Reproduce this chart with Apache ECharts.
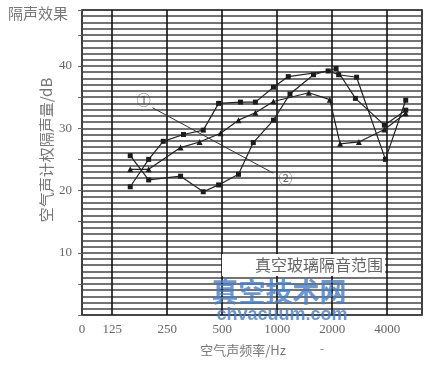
<!DOCTYPE html>
<html><head><meta charset="utf-8">
<script src="https://cdn.jsdelivr.net/npm/echarts@6/dist/echarts.min.js"></script>
<style>html,body{margin:0;padding:0;background:#fff}#c{width:441px;height:365px}</style>
</head><body><div id="c"></div>
<script>
// ---- data (frequency in Hz, value in dB) ----
const xTickFreqs = [125, 250, 500, 1000, 2000, 4000];
const xMinHz = 85.5, xMaxHz = 6200;
const xZeroLabel = '0';
const yMin = 0, yMax = 49;
const yLabelValues = [10, 20, 30, 40];

const curveLow = [[157,25.6],[198,21.7],[296,22.3],[394,19.8],[478,20.9],[614,22.6],[740,27.7],[954,31.3],[1175,35.5],[1580,38.6],[2100,39.6],[2680,34.8],[3860,30.5],[5050,32.9]];
const curveHigh = [[157,20.6],[198,25.0],[238,27.9],[307,29.0],[394,29.7],[478,34.0],[630,34.2],[760,34.2],[954,36.6],[1150,38.3],[1900,39.2],[2170,38.6],[2720,38.2],[3910,25.0],[5050,34.5]];
const curveMid = [[157,23.4],[198,23.4],[296,26.9],[376,27.8],[490,29.2],[614,31.3],[760,32.5],[954,34.3],[1490,35.7],[1940,34.6],[2210,27.5],[2800,27.8],[3860,29.8],[5050,32.4]];

const leaderLine = [[208,33.3],[950,22.8]];
const curveTags = [[186,34.6,'①'],[1110,22.0,'②']];

const titleText = '隔声效果';
const yNameText = '空气声计权隔声量/dB';
const xNameText = '空气声频率/Hz';
const rangeText = '真空玻璃隔音范围';
const wm1 = '真空技术网', wm2 = 'chvacuum.com';

// ---- chart ----
const oct = f => Math.log2(f / 125);
const toXY = arr => arr.map(p => [oct(p[0]), p[1]]);
const serif = '"Liberation Serif","DejaVu Serif",serif';
const cjk = '"Noto Sans CJK SC","Noto Sans",sans-serif';

const chart = echarts.init(document.getElementById('c'), null, {renderer: 'canvas'});
const lineBase = (data, symbol, size) => ({
  type: 'line', data: toXY(data), symbol, symbolSize: size,
  itemStyle: {color: '#1c1c1c'}, lineStyle: {color: '#222', width: 1.2},
  xAxisIndex: 0, yAxisIndex: 0, z: 5, animation: false
});

chart.setOption({
  animation: false,
  grid: {left: 82, right: 19, top: 10, bottom: 50, show: true, borderColor: '#111', borderWidth: 1.6, backgroundColor: '#fff'},
  xAxis: {
    type: 'value', min: oct(xMinHz), max: oct(xMaxHz),
    axisLine: {show: false},
    axisTick: {show: false, customValues: xTickFreqs.map(oct)},
    splitLine: {show: true, lineStyle: {color: '#111', width: 1.6}},
    axisLabel: {
      customValues: [oct(xMinHz)].concat(xTickFreqs.map(oct)),
      formatter: v => v < -0.2 ? xZeroLabel : String(Math.round(125 * Math.pow(2, v))),
      fontFamily: serif, fontSize: 13, color: '#666', margin: 8
    }
  },
  yAxis: [{
    type: 'value', min: yMin, max: yMax, interval: 1,
    axisLine: {show: false}, axisTick: {show: false}, axisLabel: {show: false},
    splitLine: {show: true, lineStyle: {color: '#444', width: 1.5}}
  }, {
    type: 'value', position: 'left', min: yMin, max: yMax, interval: 5,
    axisLine: {show: false}, splitLine: {show: false},
    axisTick: {show: true, length: 4, lineStyle: {color: '#666'}},
    axisLabel: {formatter: v => yLabelValues.indexOf(v) >= 0 ? String(v) : '', fontFamily: serif, fontSize: 13, color: '#666', margin: 10}
  }],
  graphic: [
    {type: 'text', left: 8, top: 6, style: {text: titleText, font: '15px ' + cjk, fill: '#777'}},
    {type: 'text', x: 46, y: 150, rotation: Math.PI / 2, style: {text: yNameText, font: '15px ' + cjk, fill: '#777', textAlign: 'center', textVerticalAlign: 'middle'}},
    {type: 'text', x: 243, y: 350, style: {text: xNameText, font: '13px ' + cjk, fill: '#777', textAlign: 'center', textVerticalAlign: 'middle'}},
    {type: 'text', x: 322, y: 350, style: {text: '-', font: '12px ' + serif, fill: '#888', textAlign: 'center', textVerticalAlign: 'middle'}},
    {type: 'rect', z: 20, shape: {x: 222, y: 254, width: 163, height: 22}, style: {fill: '#fff'}},
    {type: 'text', z: 21, x: 383, y: 265, style: {text: rangeText, font: '16px ' + cjk, fill: '#666', textAlign: 'right', textVerticalAlign: 'middle'}},
    {type: 'text', z: 22, x: 279, y: 292, style: {text: wm1, font: 'bold 27px ' + cjk, fill: 'rgba(70,125,200,0.8)', textAlign: 'center', textVerticalAlign: 'middle'}},
    {type: 'text', z: 22, x: 282, y: 315, style: {text: wm2, font: 'bold 18px "Liberation Sans",sans-serif', fill: 'rgba(70,125,200,0.8)', textAlign: 'center', textVerticalAlign: 'middle'}}
  ],
  series: [
    lineBase(curveLow, 'rect', 5),
    lineBase(curveHigh, 'rect', 5),
    lineBase(curveMid, 'triangle', 6),
    {type: 'line', data: toXY(leaderLine), symbol: 'none', lineStyle: {color: '#333', width: 1}, z: 4, animation: false},
    {type: 'scatter', data: curveTags.map(p => [oct(p[0]), p[1], p[2]]), symbolSize: 0,
     label: {show: true, position: 'inside', formatter: p => p.data[2], fontFamily: cjk, fontSize: 14, color: '#444'}, z: 6}
  ]
});
</script></body></html>
